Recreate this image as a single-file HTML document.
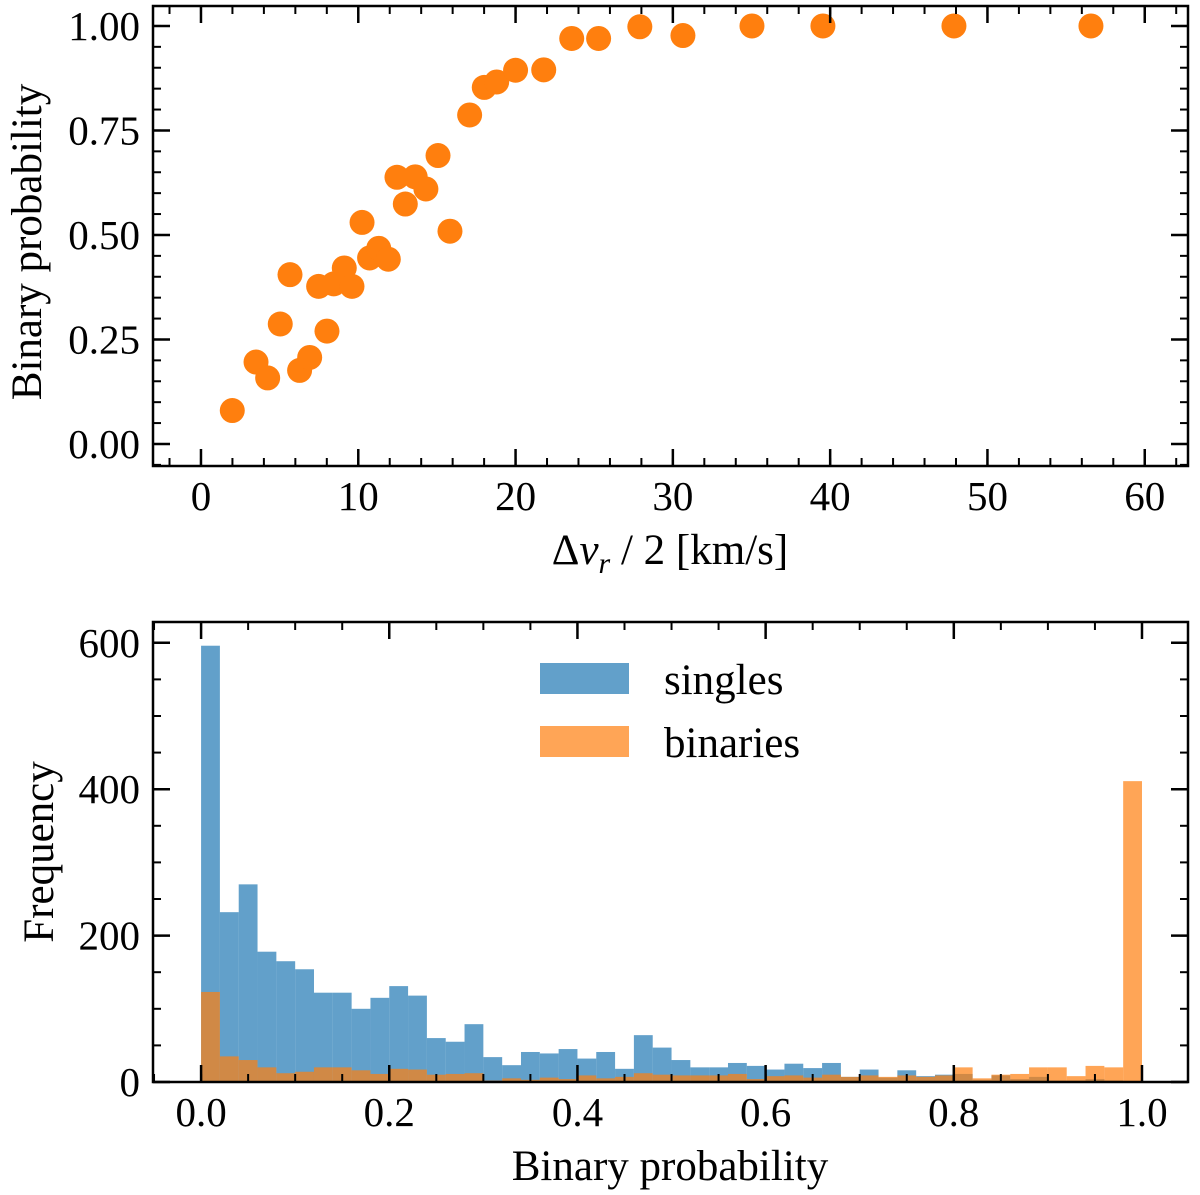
<!DOCTYPE html>
<html><head><meta charset="utf-8"><style>
html,body{margin:0;padding:0;background:#fff;}
svg{display:block;font-family:"Liberation Serif","DejaVu Serif",serif;}
</style></head><body>
<svg id="fig" width="1200" height="1195" viewBox="0 0 1200 1195" xmlns="http://www.w3.org/2000/svg"></svg>
<script>
// ---- Top scatter data ----
const scatterV = [1.99,3.50,4.24,5.04,5.66,6.27,6.91,7.48,8.01,8.44,9.11,9.60,10.24,10.72,11.30,11.91,12.46,12.99,13.62,14.30,15.07,15.83,17.08,18.01,18.80,20.00,21.79,23.57,25.28,27.9,30.64,35.03,39.54,47.87,56.58];
const scatterP = [0.080,0.196,0.158,0.287,0.405,0.176,0.207,0.377,0.270,0.383,0.421,0.377,0.530,0.445,0.468,0.442,0.638,0.574,0.639,0.610,0.690,0.509,0.787,0.853,0.866,0.894,0.895,0.970,0.970,0.998,0.977,1.0,1.0,1.0,1.0];
const topXTicks = [0,10,20,30,40,50,60];
const topYTicks = [0,0.25,0.5,0.75,1.0];
const topYTickLabels = ["0.00","0.25","0.50","0.75","1.00"];
// ---- Bottom histogram data (50 bins of 0.02) ----
const singles = [596,232,270,178,165,154,122,122,100,115,131,118,60,55,79,34,23,41,39,45,32,41,18,64,47,30,20,20,26,22,17,25,19,26,7,17,6,16,8,10,11,3,9,4,7,2,2,4,2,0];
const binaries = [123,35,30,20,12,14,20,20,16,11,18,17,10,11,12,2,5,3,6,4,9,5,7,12,10,9,9,9,11,4,8,9,6,10,7,9,7,9,7,9,20,5,10,11,20,20,8,22,20,411];
const botXTicks = [0,0.2,0.4,0.6,0.8,1.0];
const botXTickLabels = ["0.0","0.2","0.4","0.6","0.8","1.0"];
const botYTicks = [0,200,400,600];

const NS="http://www.w3.org/2000/svg";
const svg=document.getElementById('fig');
function mk(tag,attrs,parent){const e=document.createElementNS(NS,tag);for(const k in attrs)e.setAttribute(k,attrs[k]);(parent||svg).appendChild(e);return e;}
const TICKFS=41, LABFS=43;

// ---- Top axes ----
const T={l:153,r:1188,t:6,b:466,x0:-3.05,x1:62.75,y0:-0.0527,y1:1.0477};
const tx=v=>T.l+(v-T.x0)/(T.x1-T.x0)*(T.r-T.l);
const ty=p=>T.b-(p-T.y0)/(T.y1-T.y0)*(T.b-T.t);
const gTop=mk('g',{});


scatterV.forEach((v,i)=>{
  const c=mk('circle',{cx:tx(v),cy:ty(scatterP[i]),r:12.5,fill:'#ff7f0e'},gTop);
  
  
});
function ticksAndFrame(g,A,fx,fy,xmaj,xmin,ymaj,ymin){
  for(const v of xmin){const x=fx(v);if(x<A.l||x>A.r)continue;mk('line',{x1:x,x2:x,y1:A.b,y2:A.b-8,stroke:'#000','stroke-width':2},g);mk('line',{x1:x,x2:x,y1:A.t,y2:A.t+8,stroke:'#000','stroke-width':2},g);}
  for(const v of xmaj){const x=fx(v);mk('line',{x1:x,x2:x,y1:A.b,y2:A.b-17,stroke:'#000','stroke-width':2.5},g);mk('line',{x1:x,x2:x,y1:A.t,y2:A.t+17,stroke:'#000','stroke-width':2.5},g);}
  for(const v of ymin){const y=fy(v);if(y<A.t||y>A.b)continue;mk('line',{x1:A.l,x2:A.l+8,y1:y,y2:y,stroke:'#000','stroke-width':2},g);mk('line',{x1:A.r,x2:A.r-8,y1:y,y2:y,stroke:'#000','stroke-width':2},g);}
  for(const v of ymaj){const y=fy(v);mk('line',{x1:A.l,x2:A.l+17,y1:y,y2:y,stroke:'#000','stroke-width':2.5},g);mk('line',{x1:A.r,x2:A.r-17,y1:y,y2:y,stroke:'#000','stroke-width':2.5},g);}
  mk('rect',{x:A.l,y:A.t,width:A.r-A.l,height:A.b-A.t,fill:'none',stroke:'#000','stroke-width':2.5},g);
}
const tMinX=[];for(let v=-2;v<=62;v+=2)tMinX.push(v);
const tMinY=[];for(let i=-1;i<=21;i++)tMinY.push(i*0.05);
ticksAndFrame(gTop,T,tx,ty,topXTicks,tMinX,topYTicks,tMinY);
topXTicks.forEach(v=>{const t=mk('text',{x:tx(v),y:510,'font-size':TICKFS,'text-anchor':'middle'},gTop);t.textContent=String(v);
  });
topYTicks.forEach((v,i)=>{const t=mk('text',{x:140,y:ty(v)+14,'font-size':TICKFS,'text-anchor':'end'},gTop);t.textContent=topYTickLabels[i];
  });
const xl=mk('text',{x:670,y:564,'font-size':LABFS,'text-anchor':'middle'},gTop);
xl.innerHTML='Δ<tspan font-style="italic">v</tspan><tspan font-style="italic" font-size="30" dy="9">r</tspan><tspan dy="-9"> / 2 [km/s]</tspan>';

const yl=mk('text',{x:0,y:0,'font-size':LABFS,'text-anchor':'middle',transform:'translate(41,242) rotate(-90)'},gTop);
yl.textContent='Binary probability';

// ---- Bottom axes ----
const B={l:153,r:1188,t:622,b:1082,x0:-0.0511,x1:1.0489,y0:0,y1:628.4};
const bx=v=>B.l+(v-B.x0)/(B.x1-B.x0)*(B.r-B.l);
const by=v=>B.b-(v-B.y0)/(B.y1-B.y0)*(B.b-B.t);
const gBot=mk('g',{});


const bw=0.02;
singles.forEach((c,i)=>{const r=mk('rect',{x:bx(i*bw),y:by(c),width:bx(bw)-bx(0),height:by(0)-by(c),fill:'#1f77b4','fill-opacity':0.7},gBot);
  });
binaries.forEach((c,i)=>{const r=mk('rect',{x:bx(i*bw),y:by(c),width:bx(bw)-bx(0),height:by(0)-by(c),fill:'#ff7f0e','fill-opacity':0.7},gBot);
  });
const bMinX=[];for(let i=-1;i<=21;i++)bMinX.push(i*0.05);
const bMinY=[];for(let v=0;v<=650;v+=50)bMinY.push(v);
ticksAndFrame(gBot,B,bx,by,botXTicks,bMinX,botYTicks,bMinY);
botXTicks.forEach((v,i)=>{const t=mk('text',{x:bx(v),y:1126,'font-size':TICKFS,'text-anchor':'middle'},gBot);t.textContent=botXTickLabels[i];
  });
botYTicks.forEach(v=>{const t=mk('text',{x:140,y:by(v)+14,'font-size':TICKFS,'text-anchor':'end'},gBot);t.textContent=String(v);
  });
const bxl=mk('text',{x:670,y:1180,'font-size':LABFS,'text-anchor':'middle'},gBot);
bxl.textContent='Binary probability';
const byl=mk('text',{x:0,y:0,'font-size':LABFS,'text-anchor':'middle',transform:'translate(53,852) rotate(-90)'},gBot);
byl.textContent='Frequency';
// legend
const lg=mk('g',{},gBot);

const e1=mk('g',{},lg);
mk('rect',{x:540,y:663,width:89,height:31,fill:'#1f77b4','fill-opacity':0.7},e1);
const l1=mk('text',{x:664,y:694,'font-size':LABFS},e1);l1.textContent='singles';
const e2=mk('g',{},lg);
mk('rect',{x:540,y:726,width:89,height:31,fill:'#ff7f0e','fill-opacity':0.7},e2);
const l2=mk('text',{x:664,y:757,'font-size':LABFS},e2);l2.textContent='binaries';
</script>
</body></html>
